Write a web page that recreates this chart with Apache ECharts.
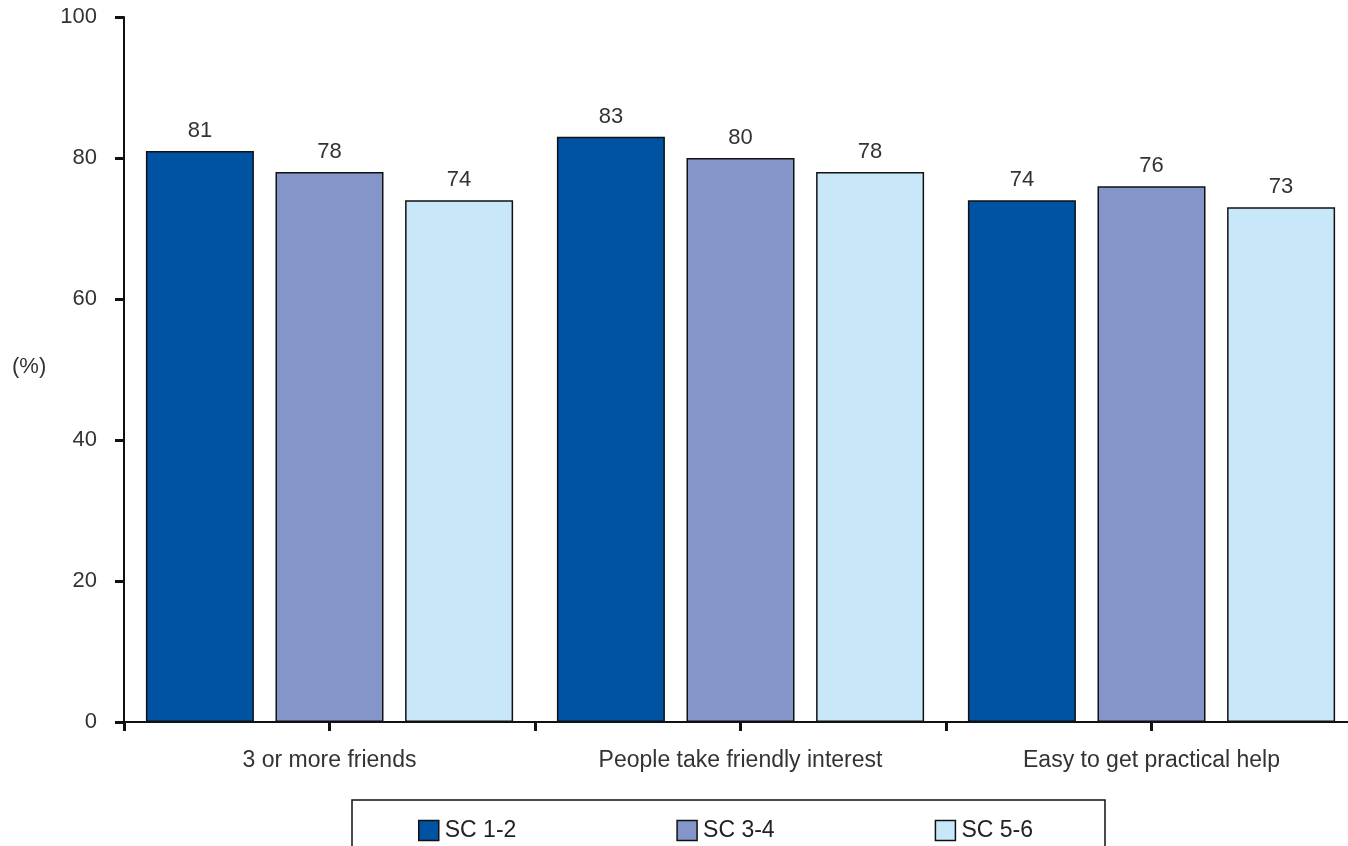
<!DOCTYPE html>
<html>
<head>
<meta charset="utf-8">
<script src="https://cdn.jsdelivr.net/npm/echarts@6/dist/echarts.min.js"></script>
<style>
  html, body { margin: 0; padding: 0; background: #fff; }
  #chart { width: 1348px; height: 846px; }
</style>
</head>
<body>
<div id="chart"></div>
<script>
// Social support indicators by social class (%)
const categories = ['3 or more friends', 'People take friendly interest', 'Easy to get practical help'];
const seriesNames = ['SC 1-2', 'SC 3-4', 'SC 5-6'];
const sc12 = [81, 83, 74];
const sc34 = [78, 80, 76];
const sc56 = [74, 78, 73];
const yTicks = [0, 20, 40, 60, 80, 100];
// half-category slots used only for the tick marks along the x axis
const tickSlots = ['', '', '', '', '', ''];

const colors = ['#0052a3', '#8496c9', '#c8e8fa'];
const values = [sc12, sc34, sc56];
const font = 'Liberation Sans, Arial, sans-serif';

const chart = echarts.init(document.getElementById('chart'));

const series = seriesNames.map((name, i) => ({
  name: name,
  type: 'bar',
  xAxisIndex: 0,
  data: values[i],
  barWidth: 108,
  barGap: '20%',
  itemStyle: { color: colors[i], borderColor: '#111', borderWidth: 1.5 },
  label: {
    show: true,
    position: 'top',
    distance: 9,
    color: '#333',
    fontFamily: font,
    fontSize: 22
  }
}));

chart.setOption({
  animation: false,
  backgroundColor: '#fff',
  // the plot runs slightly past the right edge of the canvas
  grid: { left: 124, top: 17, width: 1233, height: 705, outerBoundsMode: 'none', containLabel: false },
  xAxis: [
    {
      type: 'category',
      data: categories,
      axisLine: { lineStyle: { color: '#111', width: 2 } },
      axisTick: { show: false },
      axisLabel: { color: '#333', fontFamily: font, fontSize: 23, margin: 27 }
    },
    {
      type: 'category',
      data: tickSlots,
      position: 'bottom',
      axisLine: { show: false },
      axisTick: { show: true, interval: 0, length: 9, lineStyle: { color: '#111', width: 3 } },
      axisLabel: { show: false }
    }
  ],
  yAxis: {
    type: 'value',
    min: yTicks[0],
    max: yTicks[yTicks.length - 1],
    interval: yTicks[1] - yTicks[0],
    splitLine: { show: false },
    axisLine: { show: true, lineStyle: { color: '#111', width: 2 } },
    axisTick: { show: true, length: 9, lineStyle: { color: '#111', width: 3 } },
    axisLabel: { color: '#333', fontFamily: font, fontSize: 22, margin: 27 }
  },
  legend: {
    left: 352,
    top: 800,
    orient: 'horizontal',
    data: seriesNames,
    icon: 'rect',
    itemWidth: 20,
    itemHeight: 20,
    itemGap: 160,
    padding: [19, 72, 30, 66],
    borderColor: '#111',
    borderWidth: 1.5,
    itemStyle: { borderColor: '#111', borderWidth: 1.5 },
    textStyle: { color: '#222', fontFamily: font, fontSize: 23, padding: [0, 0, 0, 1] }
  },
  graphic: [
    {
      type: 'text',
      left: 12,
      top: 356,
      style: { text: '(%)', fill: '#333', font: '22px ' + font }
    }
  ],
  series: series
});
</script>
</body>
</html>
